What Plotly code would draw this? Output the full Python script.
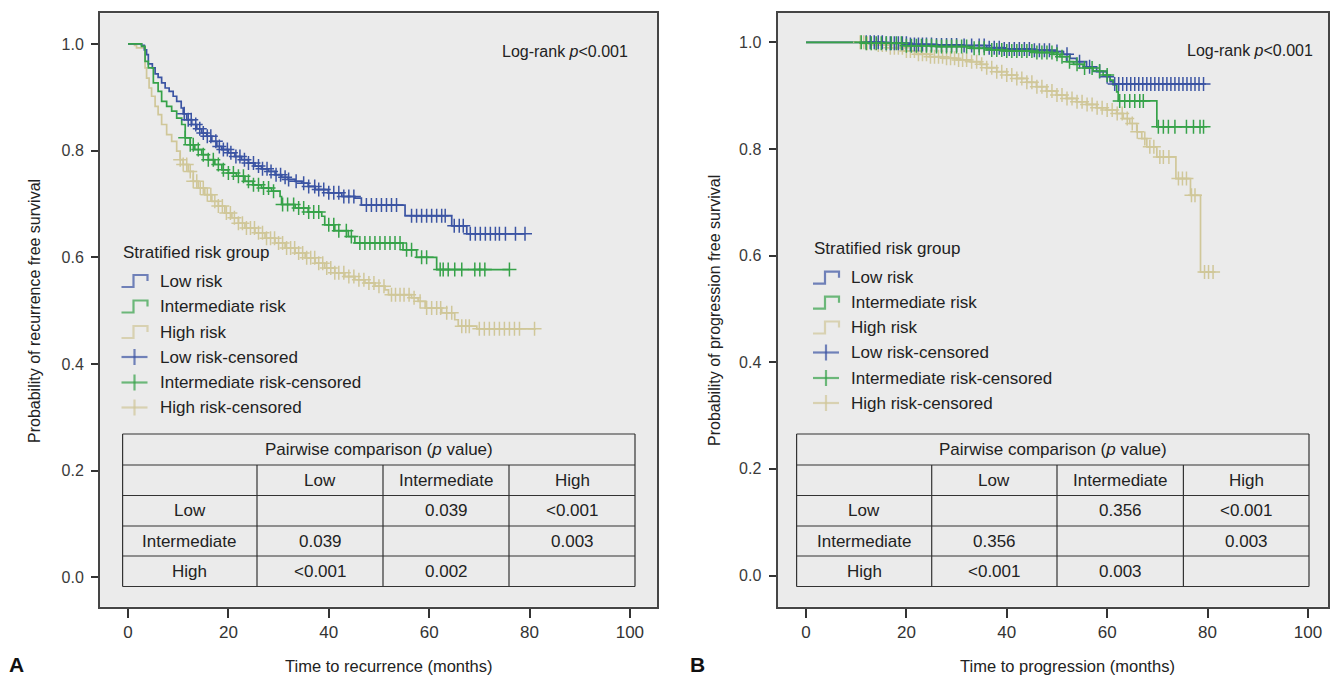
import plotly.graph_objects as go

W, H = 1330, 676

# ---------------- DATA ----------------
# Panel A: recurrence free survival (step points: time, survival)
lowA_t = [0, 2.7, 3.25, 3.7, 4.05, 4.85, 5.4, 6.0, 6.7, 7.4, 8.2, 9.0, 9.7, 10.6, 11.0, 11.7, 12.7, 13.7, 14.7,
          15.7, 16.7, 17.7, 18.7, 20.0, 21.3, 22.6, 24.0, 25.3, 26.6, 28.0, 29.3, 30.6, 31.9, 33.3, 34.6, 35.9,
          37.3, 39.9, 42.6, 45.2, 46.5, 55.2, 64.5, 67.5, 79.1]
lowA_s = [1.0, 0.9975, 0.989, 0.980, 0.9625, 0.955, 0.944, 0.9375, 0.927, 0.9175, 0.911, 0.902, 0.8925, 0.88,
          0.869, 0.858, 0.849, 0.841, 0.833, 0.827, 0.8175, 0.808, 0.802, 0.796, 0.789, 0.783, 0.777, 0.771,
          0.766, 0.761, 0.755, 0.75, 0.746, 0.7425, 0.739, 0.733, 0.727, 0.721, 0.714, 0.711, 0.698, 0.678,
          0.659, 0.644, 0.644]
lowA_cens = [11.2, 12.0, 12.6, 13.5, 14.3, 15.0, 15.8, 16.5, 17.5, 18.2, 19.0, 19.8, 20.5, 21.5, 22.3, 23.2, 24.0,
             25.0, 26.0, 26.8, 27.7, 28.5, 29.5, 30.4, 31.3, 32.0, 33.5, 35.0, 36.0, 37.2, 38.0, 39.0, 40.0, 41.0,
             42.0, 43.0, 44.0, 45.0, 47.5, 48.5, 49.5, 50.5, 51.5, 52.5, 53.5, 56.5, 57.5, 58.5, 59.5, 60.5, 61.5,
             62.5, 63.2, 65.0, 66.0, 66.8, 68.2, 69.2, 70.2, 71.2, 72.2, 73.2, 74.0, 75.2, 77.2, 79.1]

intA_t = [0, 2.7, 3.4, 4.05, 5.05, 6.0, 6.7, 7.7, 8.7, 9.7, 10.7, 11.4, 12.4, 13.3, 14.7, 16.0, 17.3, 18.7, 20.0,
          21.6, 23.3, 24.9, 26.6, 28.6, 30.3, 30.6, 33.3, 35.9, 38.6, 39.2, 41.2, 43.9, 45.2, 54.8, 57.5, 61.5, 76.1]
intA_s = [1.0, 0.9956, 0.9675, 0.955, 0.927, 0.911, 0.8925, 0.883, 0.874, 0.861, 0.849, 0.824, 0.811, 0.802,
          0.7925, 0.783, 0.774, 0.764, 0.758, 0.752, 0.7425, 0.736, 0.73, 0.724, 0.714, 0.699, 0.6925, 0.685,
          0.677, 0.661, 0.65, 0.639, 0.627, 0.614, 0.600, 0.577, 0.577]
intA_cens = [11.4, 12.4, 13.0, 14.0, 15.0, 16.0, 17.0, 18.0, 19.0, 20.0, 21.0, 22.0, 23.0, 24.0, 25.0, 26.0, 27.0,
             28.0, 29.0, 30.8, 31.8, 33.0, 34.0, 35.0, 36.0, 37.0, 38.0, 40.0, 41.0, 42.0, 43.5, 44.5, 46.2, 47.2,
             48.2, 49.2, 50.2, 51.2, 52.2, 53.2, 54.2, 55.5, 56.5, 58.5, 59.5, 62.2, 62.8, 63.8, 65.1, 66.5, 69.1,
             70.1, 71.1, 76.0]

highA_t = [0, 1.3, 1.7, 3.4, 3.7, 4.2, 4.7, 5.4, 6.0, 6.7, 7.7, 8.7, 9.7, 10.4, 11.0, 12.0, 13.0, 14.0, 15.3,
           16.7, 18.0, 19.3, 20.7, 22.0, 23.3, 25.3, 27.3, 29.3, 31.3, 33.3, 35.3, 37.3, 39.2, 41.2, 43.2, 45.2,
           47.2, 49.2, 51.2, 51.9, 56.5, 57.8, 59.2, 62.5, 65.1, 65.8, 69.5, 81.3]
highA_s = [1.0, 0.9975, 0.9925, 0.955, 0.936, 0.9175, 0.902, 0.883, 0.8675, 0.849, 0.83, 0.8175, 0.799, 0.783,
           0.774, 0.761, 0.7425, 0.73, 0.7175, 0.705, 0.696, 0.683, 0.674, 0.664, 0.655, 0.646, 0.636, 0.627,
           0.6175, 0.608, 0.599, 0.589, 0.58, 0.571, 0.564, 0.558, 0.552, 0.546, 0.539, 0.53, 0.524, 0.5175,
           0.505, 0.496, 0.483, 0.471, 0.466, 0.466]
highA_cens = [10.4, 11.0, 11.7, 12.4, 13.0, 13.7, 14.4, 15.0, 15.8, 16.5, 17.3, 18.0, 18.8, 19.6, 20.4, 21.2, 22.0,
              22.8, 23.6, 24.4, 25.2, 26.0, 26.8, 27.6, 28.4, 29.2, 30.0, 30.8, 31.6, 32.4, 33.2, 34.0, 34.8,
              35.6, 36.4, 37.2, 38.0, 38.8, 39.6, 40.4, 41.2, 42.0, 43.0, 44.0, 45.0, 46.0, 47.0, 48.0, 49.0,
              50.0, 51.0, 52.5, 53.3, 54.2, 55.0, 56.0, 57.0, 58.2, 59.5, 60.5, 61.5, 62.3, 63.5, 64.5, 66.5,
              67.3, 68.0, 70.0, 71.0, 72.0, 73.0, 74.0, 75.0, 76.0, 77.0, 78.0, 81.0]

# Panel B: progression free survival
lowB_t = [0, 15.4, 20.7, 26.0, 31.3, 36.0, 39.3, 44.6, 49.9, 51.3, 52.6, 53.9, 55.9, 57.9, 59.9, 60.6, 61.2, 79.2]
lowB_s = [1.0, 0.998, 0.996, 0.995, 0.994, 0.99, 0.9875, 0.985, 0.9825, 0.9775, 0.97, 0.9637, 0.954, 0.945,
          0.9355, 0.926, 0.922, 0.922]
lowB_cens = [12.0, 12.8, 13.6, 14.4, 15.2, 16.0, 16.8, 17.6, 18.4, 19.2, 20.0, 20.8, 21.6, 22.4, 23.2, 24.0, 25.0,
             26.0, 27.0, 28.0, 29.0, 30.0, 31.5, 33.0, 34.5, 35.5, 36.5, 37.5, 38.5, 39.5, 40.5, 41.5, 42.5, 43.5,
             44.5, 45.5, 46.5, 47.5, 48.5, 50.0, 52.0, 54.5, 56.5, 58.5, 60.0, 61.5, 62.3, 63.1, 63.9, 64.7, 65.5,
             66.3, 67.1, 67.9, 68.7, 69.5, 70.3, 71.1, 71.9, 72.7, 73.5, 74.3, 75.1, 75.9, 76.7, 77.5, 78.3, 79.2]

intB_t = [0, 11.4, 19.4, 26.0, 32.7, 36.0, 39.3, 45.9, 49.3, 50.6, 51.9, 53.3, 55.2, 57.2, 59.2, 60.6, 61.2, 61.9,
          62.2, 69.9, 79.2]
intB_s = [1.0, 0.998, 0.9937, 0.992, 0.9887, 0.9856, 0.9837, 0.981, 0.9774, 0.973, 0.9637, 0.9586, 0.952, 0.946,
          0.9386, 0.929, 0.92, 0.907, 0.89, 0.8415, 0.8415]
intB_cens = [11.0, 12.0, 13.0, 14.0, 15.0, 16.0, 17.0, 18.0, 19.0, 20.0, 21.0, 22.0, 23.0, 24.0, 25.0, 26.0, 27.0,
             28.0, 29.0, 30.0, 31.0, 32.0, 33.5, 34.5, 35.5, 37.0, 38.0, 39.0, 40.0, 41.0, 42.0, 43.0, 44.0, 45.0,
             46.0, 47.0, 48.0, 49.0, 50.0, 51.0, 52.5, 54.0, 55.5, 57.0, 58.5, 60.0, 62.5, 63.5, 64.5, 65.5, 66.5,
             67.2, 70.2, 71.2, 72.2, 73.5, 75.8, 77.2, 78.5, 79.2]

highB_t = [0, 12.1, 14.1, 16.7, 19.4, 22.0, 24.7, 27.4, 30.0, 32.7, 34.7, 36.0, 38.0, 40.0, 42.0, 44.0, 45.9, 47.9,
           49.9, 51.9, 53.9, 55.9, 57.9, 59.9, 61.9, 63.2, 64.5, 65.9, 66.9, 67.9, 69.9, 73.7, 76.6, 78.6, 81.1]
highB_s = [1.0, 0.998, 0.995, 0.99, 0.9837, 0.9774, 0.973, 0.97, 0.967, 0.9637, 0.9586, 0.9524, 0.9449, 0.9386,
           0.9323, 0.925, 0.9167, 0.9085, 0.901, 0.8947, 0.8885, 0.8835, 0.8772, 0.873, 0.8665, 0.857, 0.8477,
           0.832, 0.8195, 0.804, 0.785, 0.7444, 0.713, 0.569, 0.569]
highB_cens = [10.8, 11.5, 12.2, 13.0, 13.7, 14.4, 15.2, 16.0, 16.8, 17.6, 18.4, 19.2, 20.0, 20.8, 21.6, 22.4, 23.2,
              24.0, 24.8, 25.6, 26.4, 27.2, 28.0, 28.8, 29.6, 30.4, 31.2, 32.0, 33.0, 34.0, 35.0, 36.0, 37.0,
              38.0, 39.0, 40.0, 41.0, 42.0, 43.0, 44.0, 45.0, 46.0, 47.0, 48.0, 49.0, 50.0, 51.0, 52.0, 53.0,
              54.0, 55.0, 56.0, 57.0, 58.0, 59.0, 60.0, 61.0, 62.0, 63.0, 64.0, 65.0, 66.0, 67.5, 68.5, 69.3,
              70.5, 71.2, 72.3, 74.2, 75.0, 75.8, 76.8, 77.5, 79.4, 80.2, 81.1]

groups = ["Low risk", "Intermediate risk", "High risk"]
table_cols = ["", "Low", "Intermediate", "High"]
table_rows = ["Low", "Intermediate", "High"]
pvals_A = [["", "0.039", "&lt;0.001"], ["0.039", "", "0.003"], ["&lt;0.001", "0.002", ""]]
pvals_B = [["", "0.356", "&lt;0.001"], ["0.356", "", "0.003"], ["&lt;0.001", "0.003", ""]]
x_ticks = [0, 20, 40, 60, 80, 100]
y_ticks = [0.0, 0.2, 0.4, 0.6, 0.8, 1.0]

# ---------------- STYLE ----------------
C_LOW, C_INT, C_HIGH = "#3b54a3", "#36a249", "#d0c799"
TXT = "Liberation Sans, Arial, sans-serif"
ARIAL = "Liberation Sans, Arial, sans-serif"
BG = "#ebebeb"
FRAME = "#454545"


def px(x):
    return x / W


def py(y):
    return 1 - y / H


def step_at(ts, ss, t):
    v = ss[0]
    for ti, si in zip(ts, ss):
        if ti <= t:
            v = si
    return v


fig = go.Figure()

panels = [
    dict(xa="x", ya="y", curves=[(highA_t, highA_s, highA_cens, C_HIGH), (lowA_t, lowA_s, lowA_cens, C_LOW),
                                 (intA_t, intA_s, intA_cens, C_INT)]),
    dict(xa="x2", ya="y2", curves=[(highB_t, highB_s, highB_cens, C_HIGH), (lowB_t, lowB_s, lowB_cens, C_LOW),
                                   (intB_t, intB_s, intB_cens, C_INT)]),
]
for p in panels:
    for ts, ss, cens, col in p["curves"]:
        fig.add_trace(go.Scatter(x=ts, y=ss, mode="lines", line=dict(color=col, width=1.7, shape="hv"),
                                 xaxis=p["xa"], yaxis=p["ya"], showlegend=False, hoverinfo="skip"))
    for ts, ss, cens, col in p["curves"]:
        fig.add_trace(go.Scatter(x=cens, y=[step_at(ts, ss, c) for c in cens], mode="markers",
                                 marker=dict(symbol="cross-thin", size=10, line=dict(color=col, width=1.5)),
                                 xaxis=p["xa"], yaxis=p["ya"], showlegend=False, hoverinfo="skip"))

# axes geometry (pixels)
A = dict(l=100, r=657, t=13.3, b=606.7, xr=[-5.58, 105.4], yr=[-0.055, 1.0575])
B = dict(l=777.5, r=1328, t=12.7, b=606.7, xr=[-5.68, 104.0], yr=[-0.0585, 1.0555])


def xax(g):
    return dict(domain=[px(g["l"]), px(g["r"])], range=g["xr"], tickvals=x_ticks, ticks="outside",
                ticklen=9, tickwidth=2, tickcolor="#333", showline=True, linecolor=FRAME, linewidth=2,
                mirror=True, showgrid=False, zeroline=False,
                tickfont=dict(family=TXT, size=17, color="#333"), fixedrange=True)


def yax(g, anchor):
    return dict(domain=[py(g["b"]), py(g["t"])], range=g["yr"], tickvals=y_ticks,
                ticktext=["%.1f" % v for v in y_ticks], ticks="outside", ticklen=7, tickwidth=2,
                tickcolor="#333", showline=True, linecolor=FRAME, linewidth=2, mirror=True, showgrid=False,
                zeroline=False, tickfont=dict(family=ARIAL, size=16, color="#3a3a3a"), anchor=anchor,
                ticklabelstandoff=4, fixedrange=True)


ann = []
shapes = []


def text(x, y, s, size=17, xanchor="left", family=TXT, color="#222", **kw):
    ann.append(dict(x=px(x), y=py(y), xref="paper", yref="paper", text=s, showarrow=False,
                    xanchor=xanchor, yanchor="middle", font=dict(family=family, size=size, color=color), **kw))


# legends
def legend(x0, ytitle, ys):
    text(x0 - 1, ytitle, "Stratified risk group", size=17)
    cols = [C_LOW, C_INT, C_HIGH]
    for i, (lab, col) in enumerate(zip(groups, cols)):
        y = ys[i]
        x1, x2, x3 = x0, x0 + 12, x0 + 26
        path = "M %f %f L %f %f L %f %f L %f %f L %f %f" % (
            px(x1), py(y + 6), px(x2), py(y + 6), px(x2), py(y - 6), px(x3), py(y - 6), px(x3), py(y))
        shapes.append(dict(type="path", path=path, xref="paper", yref="paper",
                           line=dict(color=col, width=2.2), opacity=0.7))
        text(x0 + 36, y, lab, size=17)
    for i, (lab, col) in enumerate(zip(groups, cols)):
        y = ys[3 + i]
        shapes.append(dict(type="line", xref="paper", yref="paper", x0=px(x0), x1=px(x0 + 26), y0=py(y),
                           y1=py(y), line=dict(color=col, width=2.2), opacity=0.7))
        shapes.append(dict(type="line", xref="paper", yref="paper", x0=px(x0 + 13), x1=px(x0 + 13),
                           y0=py(y - 8), y1=py(y + 8), line=dict(color=col, width=2.2), opacity=0.7))
        text(x0 + 36, y, lab + "-censored", size=17)


legend(121.5, 252, [281, 306.5, 332, 357, 382.5, 407.5])
legend(813, 248, [277.7, 302.7, 327.5, 352.5, 378, 403])

# log-rank
text(630, 51.5, "Log-rank <i>p</i>&lt;0.001", size=16, xanchor="right")
text(1315, 50, "Log-rank <i>p</i>&lt;0.001", size=16, xanchor="right")


def table(xs, ys, pv):
    for x in xs:
        y0 = ys[1] if x not in (xs[0], xs[-1]) else ys[0]
        shapes.append(dict(type="line", xref="paper", yref="paper", x0=px(x), x1=px(x), y0=py(y0),
                           y1=py(ys[-1]), line=dict(color="#333", width=1.2)))
    for y in ys:
        shapes.append(dict(type="line", xref="paper", yref="paper", x0=px(xs[0]), x1=px(xs[-1]), y0=py(y),
                           y1=py(y), line=dict(color="#333", width=1.2)))
    cx = [(xs[i] + xs[i + 1]) / 2 for i in range(4)]
    cy = [(ys[i] + ys[i + 1]) / 2 for i in range(5)]
    text((xs[0] + xs[-1]) / 2, cy[0], "Pairwise comparison (<i>p</i> value)", size=17, xanchor="center")
    for j, c in enumerate(table_cols):
        if c:
            text(cx[j], cy[1], c, size=17, xanchor="center")
    for i, r in enumerate(table_rows):
        text(cx[0], cy[2 + i], r, size=17, xanchor="center")
        for j in range(3):
            if pv[i][j]:
                text(cx[1 + j], cy[2 + i], pv[i][j], size=17, xanchor="center")


table([122.6, 257, 383, 509, 635], [434, 465, 495.5, 526, 556, 586.5], pvals_A)
table([796.6, 931.7, 1057, 1183.4, 1309], [434, 465, 495.5, 526, 556, 586.5], pvals_B)

# axis titles and panel letters
text(34, 311, "Probability of recurrence free survival", size=16, xanchor="center", textangle=-90)
text(714, 311, "Probability of progression free survival", size=16, xanchor="center", textangle=-90)
text(389, 666, "Time to recurrence (months)", size=16.5, xanchor="center")
text(1067, 666, "Time to progression (months)", size=16.5, xanchor="center")
text(7, 664, "<b>A</b>", size=21, family=ARIAL, color="#111")
text(688, 664, "<b>B</b>", size=21, family=ARIAL, color="#111")

fig.update_layout(
    width=W, height=H, margin=dict(l=0, r=0, t=0, b=0), autosize=False,
    paper_bgcolor="white", plot_bgcolor=BG,
    xaxis=dict(xax(A), anchor="y"), yaxis=yax(A, "x"),
    xaxis2=dict(xax(B), anchor="y2"), yaxis2=yax(B, "x2"),
    annotations=ann, shapes=shapes, showlegend=False,
)

fig.write_html("out.html", config={"displayModeBar": False},
               post_script="document.body.style.margin='0px';document.body.style.padding='0px';")
